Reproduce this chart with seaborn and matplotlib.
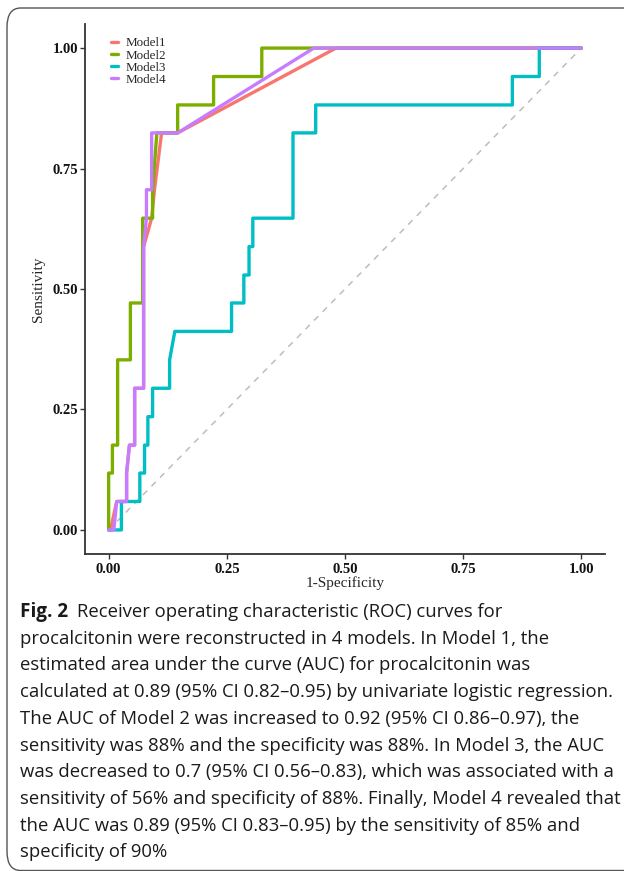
import numpy as np
import pandas as pd
import matplotlib
matplotlib.use('Agg')
from matplotlib import pyplot as plt
from matplotlib.patches import FancyBboxPatch
import seaborn as sns

# ROC curve vertices (1-specificity, sensitivity)
fpr_m1 = [0, 0.004, 0.017, 0.038, 0.038, 0.044, 0.055, 0.055, 0.074, 0.074, 0.091, 0.097, 0.112, 0.146, 0.481, 1]
tpr_m1 = [0, 0, 0.059, 0.059, 0.118, 0.176, 0.176, 0.294, 0.294, 0.588, 0.647, 0.706, 0.824, 0.824, 1, 1]

fpr_m2 = [0, 0, 0.008, 0.008, 0.019, 0.019, 0.046, 0.046, 0.072, 0.072, 0.093, 0.093, 0.102,
          0.146, 0.146, 0.222, 0.222, 0.324, 0.324, 1]
tpr_m2 = [0, 0.118, 0.118, 0.176, 0.176, 0.353, 0.353, 0.471, 0.471, 0.647, 0.647, 0.706, 0.824,
          0.824, 0.882, 0.882, 0.941, 0.941, 1, 1]

fpr_m3 = [0, 0.027, 0.027, 0.066, 0.066, 0.076, 0.076, 0.083, 0.083, 0.093, 0.093, 0.129, 0.129,
          0.140, 0.26, 0.26, 0.286, 0.286, 0.297, 0.297, 0.305, 0.305, 0.39, 0.39, 0.438, 0.438,
          0.854, 0.854, 0.911, 0.911, 1]
tpr_m3 = [0, 0, 0.059, 0.059, 0.118, 0.118, 0.176, 0.176, 0.235, 0.235, 0.294, 0.294, 0.353,
          0.412, 0.412, 0.471, 0.471, 0.529, 0.529, 0.588, 0.588, 0.647, 0.647, 0.824, 0.824, 0.882,
          0.882, 0.941, 0.941, 1, 1]

fpr_m4 = [0, 0.011, 0.017, 0.038, 0.038, 0.044, 0.055, 0.055, 0.074, 0.074, 0.080, 0.080, 0.091,
          0.091, 0.146, 0.434, 1]
tpr_m4 = [0, 0, 0.059, 0.059, 0.118, 0.176, 0.176, 0.294, 0.294, 0.588, 0.647, 0.706, 0.706,
          0.824, 0.824, 1, 1]

models = ['Model1', 'Model2', 'Model3', 'Model4']
colors = ['#F8766D', '#7CAE00', '#00BFC4', '#C77CFF']
ticks = [0.00, 0.25, 0.50, 0.75, 1.00]
tick_labels = ['0.00', '0.25', '0.50', '0.75', '1.00']

caption_head = 'Fig. 2'
caption_first = 'Receiver operating characteristic (ROC) curves for'
caption_rest = [
    'procalcitonin were reconstructed in 4 models. In Model 1, the',
    'estimated area under the curve (AUC) for procalcitonin was',
    'calculated at 0.89 (95% CI 0.82\u20130.95) by univariate logistic regression.',
    'The AUC of Model 2 was increased to 0.92 (95% CI 0.86\u20130.97), the',
    'sensitivity was 88% and the specificity was 88%. In Model 3, the AUC',
    'was decreased to 0.7 (95% CI 0.56\u20130.83), which was associated with a',
    'sensitivity of 56% and specificity of 88%. Finally, Model 4 revealed that',
    'the AUC was 0.89 (95% CI 0.83\u20130.95) by the sensitivity of 85% and',
    'specificity of 90%',
]

# long table for seaborn, order of points kept
frames = []
for name, fx, ty in zip(models, [fpr_m1, fpr_m2, fpr_m3, fpr_m4], [tpr_m1, tpr_m2, tpr_m3, tpr_m4]):
    frames.append(pd.DataFrame({'fpr': fx, 'tpr': ty, 'model': name}))
roc = pd.concat(frames, ignore_index=True)

sns.set_style('white')
plt.rcParams['font.family'] = ['Liberation Serif', 'DejaVu Serif']

W, H = 624, 871
fig = plt.figure(figsize=(W / 100, H / 100), dpi=100)
ax = fig.add_axes([85 / W, 1 - 554 / H, 520 / W, 530 / H])

ax.plot([0, 1], [0, 1], color='#BDBDBD', linestyle=(0, (4, 4)), linewidth=1.1, zorder=1)
sns.lineplot(data=roc, x='fpr', y='tpr', hue='model', palette=colors, sort=False,
             estimator=None, linewidth=2.4, ax=ax, zorder=2)

ax.set_xlim(-0.05, 1.05)
ax.set_ylim(-0.05, 1.05)
ax.set_xticks(ticks)
ax.set_xticklabels(tick_labels)
ax.set_yticks(ticks)
ax.set_yticklabels(tick_labels)
for lab in ax.get_xticklabels() + ax.get_yticklabels():
    lab.set_fontweight('bold')
    lab.set_fontsize(10.5)
    lab.set_color('#111111')
ax.tick_params(axis='both', direction='out', length=3.5, width=1, color='#333333', pad=1.5,
               bottom=True, left=True)
ax.tick_params(axis='x', pad=3)
for side in ['top', 'right']:
    ax.spines[side].set_visible(False)
for side in ['left', 'bottom']:
    ax.spines[side].set_color('#333333')
    ax.spines[side].set_linewidth(1.3)
ax.set_xlabel('1-Specificity', fontsize=11, labelpad=0)
ax.set_ylabel('Sensitivity', fontsize=11, labelpad=5)

handles, labels = ax.get_legend_handles_labels()
ax.legend(handles, labels, loc='upper left', bbox_to_anchor=(0.05, 0.975), frameon=False,
          fontsize=9.4, handlelength=0.55, handletextpad=0.55, labelspacing=0.0,
          borderpad=0, borderaxespad=0)

# rounded frame around the figure
frame = FancyBboxPatch((7 / W, 1 - 870.5 / H), 640 / W, 862.5 / H,
                       boxstyle='round,pad=0,rounding_size=0.022', transform=fig.transFigure,
                       facecolor='none', edgecolor='#555555', linewidth=1.0, clip_on=False)
fig.patches.append(frame)

# caption
cap_font = ['Open Sans', 'DejaVu Sans']
cap_size = 13.3
x0 = 20 / W
base0 = 617
step = 26.7
head = fig.text(x0, 1 - base0 / H, caption_head, fontsize=cap_size + 0.3, fontweight='bold',
                family=cap_font, va='baseline', ha='left', color='#1a1a1a')
renderer = fig.canvas.get_renderer()
bb = head.get_window_extent(renderer=renderer)
fig.text(bb.x1 / W + 9 / W, 1 - base0 / H, caption_first, fontsize=cap_size, family=cap_font,
         va='baseline', ha='left', color='#1a1a1a')
for i, line in enumerate(caption_rest):
    fig.text(x0, 1 - (base0 + step * (i + 1)) / H, line, fontsize=cap_size, family=cap_font,
             va='baseline', ha='left', color='#1a1a1a')

fig.savefig('out.png', dpi=100)
